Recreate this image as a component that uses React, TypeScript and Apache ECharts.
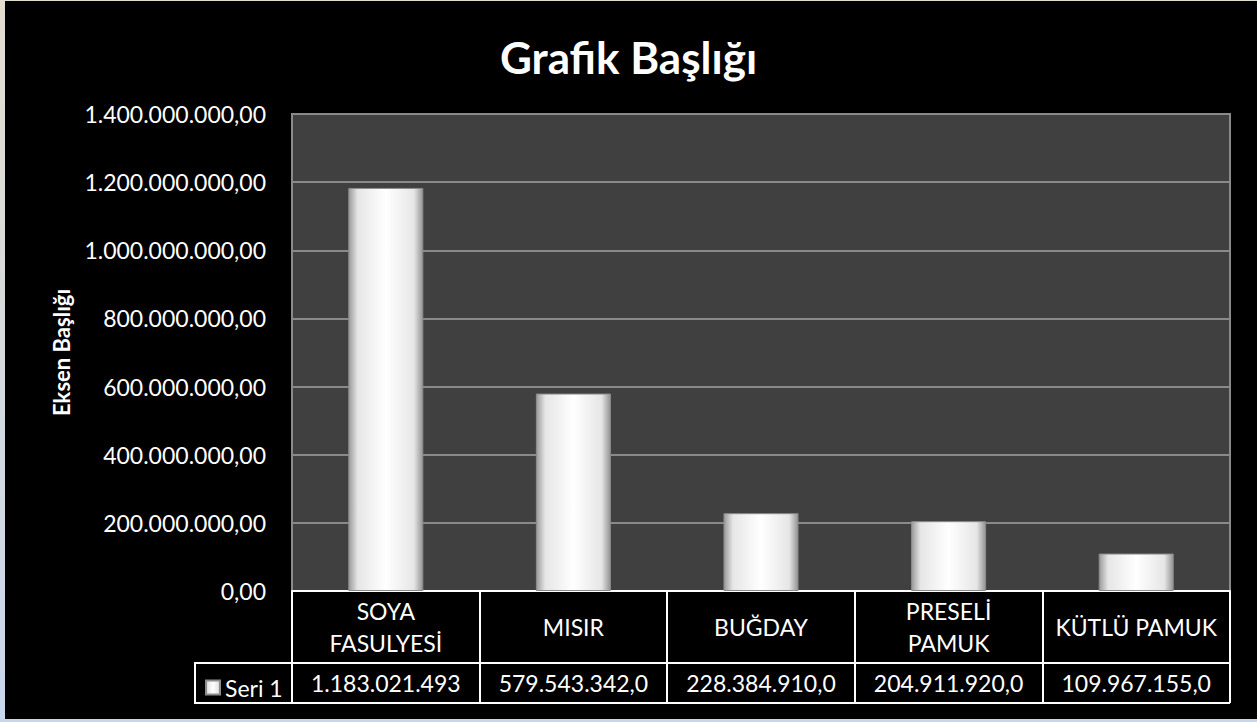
import React, { useEffect, useRef } from "react";
import * as echarts from "echarts";

const categories = ["SOYA\nFASULYESİ", "MISIR", "BUĞDAY", "PRESELİ\nPAMUK", "KÜTLÜ PAMUK"];
const seriesName = "Seri 1";
const values = [1183021493, 579543342, 228384910, 204911920, 109967155];
const valueLabels = ["1.183.021.493", "579.543.342,0", "228.384.910,0", "204.911.920,0", "109.967.155,0"];
const yMax = 1400000000;
const yInterval = 200000000;

const FONT = "Lato";

function fmtTR(v: number): string {
  const s = Math.round(v).toString().replace(/\B(?=(\d{3})+(?!\d))/g, ".");
  return s + ",00";
}

export default function App() {
  const ref = useRef<HTMLDivElement>(null);
  useEffect(() => {
    if (!ref.current) return;
    const chart = echarts.init(ref.current, undefined, { renderer: "svg" });
    const barGrad = new echarts.graphic.LinearGradient(0, 0, 1, 0, [
      { offset: 0, color: "#9a9a9a" },
      { offset: 0.12, color: "#e6e6e6" },
      { offset: 0.5, color: "#ffffff" },
      { offset: 0.88, color: "#e6e6e6" },
      { offset: 1, color: "#949494" },
    ]);
    chart.setOption({
      animation: false,
      backgroundColor: "transparent",
      title: {
        text: "Grafik Başlığı",
        left: "center",
        top: 30,
        textStyle: { color: "#ffffff", fontSize: 44, fontWeight: "bold", fontFamily: FONT },
      },
      legend: {
        left: 200,
        top: 671,
        itemWidth: 14,
        itemHeight: 14,
        itemGap: 4,
        icon: "rect",
        textStyle: { color: "#ffffff", fontSize: 23, fontFamily: FONT },
        data: [seriesName],
      },
      grid: {
        left: 292,
        right: 27,
        top: 114,
        bottom: 131,
        show: true,
        backgroundColor: "#404040",
        borderColor: "#8a8a8a",
        borderWidth: 2,
      },
      xAxis: [
        {
          type: "category",
          data: categories,
          position: "bottom",
          axisLine: { lineStyle: { color: "#ffffff", width: 2 } },
          axisTick: { show: true, length: 72, lineStyle: { color: "#ffffff", width: 2 } },
          axisLabel: {
            interval: 0,
            margin: 36,
            verticalAlign: "middle",
            color: "#ffffff",
            fontSize: 23,
            lineHeight: 32,
            fontFamily: FONT,
          },
        },
        {
          type: "category",
          data: valueLabels,
          position: "bottom",
          offset: 72,
          axisLine: { lineStyle: { color: "#ffffff", width: 2 } },
          axisTick: { show: true, length: 40, lineStyle: { color: "#ffffff", width: 2 } },
          axisLabel: {
            interval: 0,
            margin: 20,
            verticalAlign: "middle",
            color: "#ffffff",
            fontSize: 23,
            fontFamily: FONT,
          },
        },
      ],
      yAxis: {
        type: "value",
        min: 0,
        max: yMax,
        interval: yInterval,
        name: "Eksen Başlığı",
        nameLocation: "middle",
        nameGap: 220,
        nameRotate: 90,
        nameTextStyle: { color: "#ffffff", fontSize: 22, fontWeight: "bold", fontFamily: FONT },
        axisLine: { show: false },
        axisTick: { show: false },
        splitLine: { lineStyle: { color: "#8a8a8a", width: 2 } },
        axisLabel: {
          color: "#ffffff",
          fontSize: 23,
          margin: 26,
          fontFamily: FONT,
          formatter: (v: number) => fmtTR(v),
        },
      },
      series: [
        {
          name: seriesName,
          type: "bar",
          data: values,
          barWidth: "40%",
          itemStyle: { color: barGrad, borderColor: "#8c8c8c", borderWidth: 1 },
        },
      ],
      graphic: [
        {
          type: "rect",
          shape: { x: 195, y: 663, width: 97, height: 40 },
          style: { fill: "none", stroke: "#ffffff", lineWidth: 2 },
        },
        {
          type: "line",
          shape: { x1: 292, y1: 703, x2: 1230, y2: 703 },
          style: { stroke: "#ffffff", lineWidth: 2 },
        },
      ],
    });
    return () => chart.dispose();
  }, []);
  return (
    <div style={{ position: "fixed", left: 0, top: 0, width: 1257, height: 722, background: "linear-gradient(180deg,#e3ddcf,#c9d7ec)" }}>
      <div style={{ position: "absolute", left: 5, top: 1, width: 1252, height: 718, background: "#000" }} />
      <div ref={ref} style={{ position: "absolute", left: 0, top: 0, width: 1257, height: 722 }} />
    </div>
  );
}
